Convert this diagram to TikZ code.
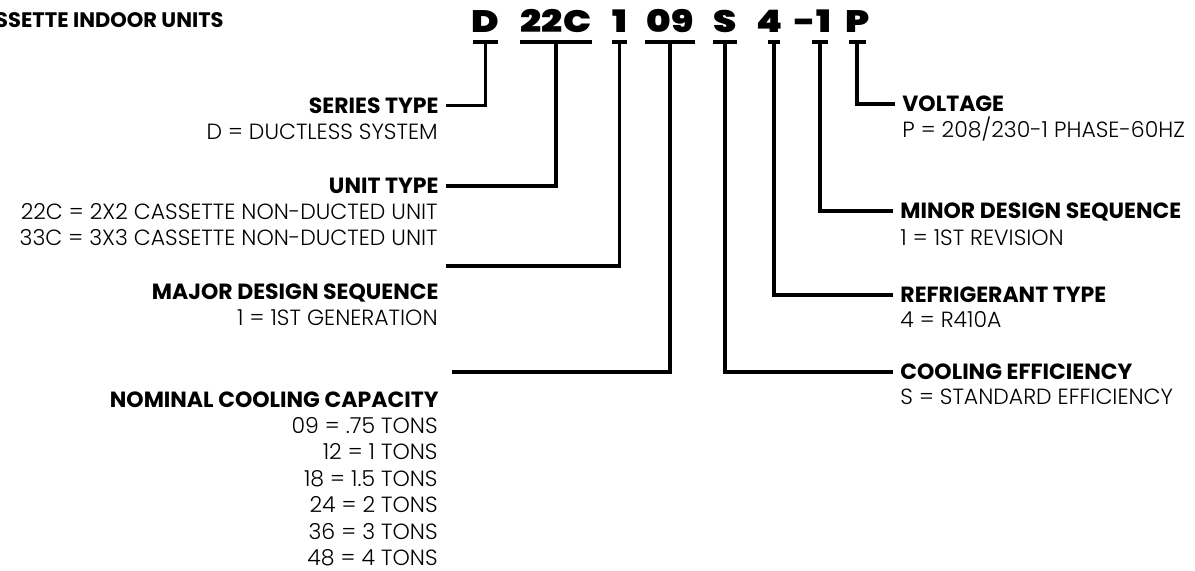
\documentclass[tikz,border=0pt]{standalone}
\usepackage{fontspec}
\setmainfont{Poppins}[UprightFont={* Light}, BoldFont={* Bold}]
\newfontfamily\codefont{Poppins}[UprightFont={* Black}, FakeStretch=1.2]

\tikzset{
  code/.style={font=\fontsize{15.5}{18}\codefont\selectfont, inner sep=0pt, anchor=base},
  bar/.style={line width=2pt},
  conn/.style={line width=1.6pt},
  headL/.style={font=\fontsize{11}{13.4}\bfseries\selectfont, inner xsep=3.5pt, inner ysep=0pt, text height=7.7pt, text depth=0pt, anchor=east},
  headR/.style={headL, anchor=west},
  infoL/.style={font=\fontsize{11}{13.25}\selectfont, inner sep=0pt, align=right},
  infoR/.style={infoL, align=left}
}

\begin{document}
\begin{tikzpicture}[x=0.5pt,y=-0.5pt]
    \useasboundingbox (0,0) rectangle (1195,571);
    %% title, cut at the left edge
    \node[headL, inner xsep=0pt, font=\fontsize{10.5}{12}\bfseries\selectfont] (title) at (224,20) {SSETTE INDOOR UNITS};
    %% model number
    \node[code] (cD) at (485.5,33) {D};
    \node[code] (c22C) at (556,33) {22C};
    \node[code] (c1) at (619.5,33) {1};
    \node[code] (c09) at (670,33) {09};
    \node[code] (cS) at (725,33) {S};
    \node[code] (c4) at (770,33) {4};
    \node[code] (cMinor) at (813,33) {-1};
    \node[code] (cP) at (858,33) {P};
    %% bars under the groups
    \coordinate (bD) at (485.5,42);
    \coordinate (b22C) at (556,42);
    \coordinate (b1) at (619.5,42);
    \coordinate (b09) at (670,42);
    \coordinate (bS) at (725,42);
    \coordinate (b4) at (774,42);
    \coordinate (bMinor) at (820,42);
    \coordinate (bP) at (857,42);
    \draw[bar] ([xshift=-6.25pt]bD) -- ([xshift=6.25pt]bD);
    \draw[bar] ([xshift=-18pt]b22C) -- ([xshift=18pt]b22C);
    \draw[bar] ([xshift=-3.75pt]b1) -- ([xshift=3.75pt]b1);
    \draw[bar] ([xshift=-12.5pt]b09) -- ([xshift=12.5pt]b09);
    \draw[bar] ([xshift=-6pt]bS) -- ([xshift=6pt]bS);
    \draw[bar] ([xshift=-3pt]b4) -- ([xshift=3pt]b4);
    \draw[bar] ([xshift=-4pt]bMinor) -- ([xshift=4pt]bMinor);
    \draw[bar] ([xshift=-4.25pt]bP) -- ([xshift=4.25pt]bP);
    %% left side
    \node[headL] (hSeries) at (446,105.5) {SERIES TYPE};
    \node[infoL, anchor=base east] (dSeries) at (438,140) {D = DUCTLESS SYSTEM};
    \node[headL] (hUnit) at (446,186) {UNIT TYPE};
    \node[infoL, anchor=north east] (dUnit) at (438,203) {22C = 2X2 CASSETTE NON-DUCTED UNIT\\33C = 3X3 CASSETTE NON-DUCTED UNIT};
    \coordinate (kMajor) at (446,266);
    \node[headL] (hMajor) at (446,292) {MAJOR DESIGN SEQUENCE};
    \node[infoL, anchor=base east] (dMajor) at (438,326) {1 = 1ST GENERATION};
    \coordinate (kNominal) at (452,372);
    \node[headL] (hNominal) at (446,400) {NOMINAL COOLING CAPACITY};
    \node[infoL, anchor=north east] (dNominal) at (438,417) {09 = .75 TONS\\12 = 1 TONS\\18 = 1.5 TONS\\24 = 2 TONS\\36 = 3 TONS\\48 = 4 TONS};
    %% right side
    \node[headR] (hVoltage) at (895,104) {VOLTAGE};
    \node[infoR, anchor=base west] (dVoltage) at (902,138) {P = 208/230-1 PHASE-60HZ};
    \node[headR] (hMinor) at (893,211) {MINOR DESIGN SEQUENCE};
    \node[infoR, anchor=base west] (dMinor) at (900,246) {1 = 1ST REVISION};
    \node[headR] (hRefrig) at (893,295) {REFRIGERANT TYPE};
    \node[infoR, anchor=base west] (dRefrig) at (900,328) {4 = R410A};
    \node[headR] (hCooling) at (893,372) {COOLING EFFICIENCY};
    \node[infoR, anchor=base west] (dCooling) at (900,405) {S = STANDARD EFFICIENCY};
    %% connectors
    \draw[conn] (bD) |- (hSeries.east);
    \draw[conn] (b22C) |- (hUnit.east);
    \draw[conn] (b1) |- (kMajor);
    \draw[conn] (b09) |- (kNominal);
    \draw[conn] (bS) |- (hCooling.west);
    \draw[conn] (b4) |- (hRefrig.west);
    \draw[conn] (bMinor) |- (hMinor.west);
    \draw[conn] (bP) |- (hVoltage.west);
\end{tikzpicture}
\end{document}
